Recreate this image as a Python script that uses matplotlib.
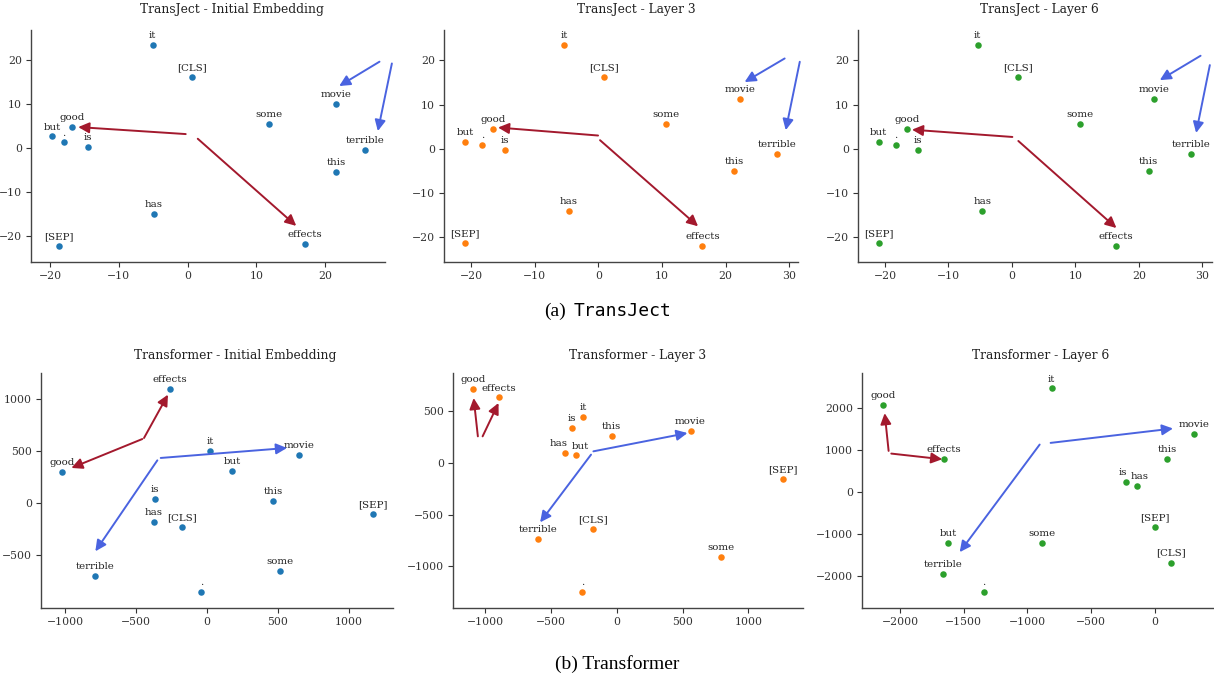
import matplotlib
matplotlib.use("Agg")
import matplotlib.pyplot as plt

plt.rcParams['font.family'] = ['DejaVu Serif']
plt.rcParams['axes.unicode_minus'] = True

words = ["it", "[CLS]", "movie", "some", "good", "but", ".", "is", "terrible", "this", "has", "effects", "[SEP]"]

# ---- TransJect ----
tj_init_x = [-5.07, 0.65, 21.6, 11.8, -16.75, -19.7, -17.96, -14.47, 25.77, 21.6, -4.87, 17.1, -18.74]
tj_init_y = [23.56, 16.2, 10.08, 5.6, 4.92, 2.73, 1.36, 0.38, -0.38, -5.3, -14.85, -21.67, -22.1]
tj_l3_x = [-5.41, 0.88, 22.29, 10.69, -16.54, -21.0, -18.27, -14.75, 28.16, 21.4, -4.68, 16.36, -21.0]
tj_l3_y = [23.55, 16.2, 11.3, 5.63, 4.5, 1.63, 0.94, -0.26, -1.25, -5.03, -14.18, -22.04, -21.44]
tj_l6_x = [-5.4, 0.96, 22.33, 10.78, -16.53, -21.0, -18.32, -14.75, 28.27, 21.5, -4.66, 16.4, -21.0]
tj_l6_y = [23.56, 16.2, 11.3, 5.6, 4.47, 1.6, 0.9, -0.3, -1.29, -5.08, -14.2, -22.1, -21.5]

# ---- Transformer ----
tf_init_x = [22, -173, 650, 516, -1021, 177, -39, -365, -788, 467, -372, -262, 1169]
tf_init_y = [503, -231, 458, -651, 298, 308, -856, 38, -702, 16, -183, 1093, -103]
tf_l3_x = [-254, -178, 560, 793, -1091, -310, -262, -338, -600, -39, -396, -896, 1263]
tf_l3_y = [448, -642, 313, -906, 713, 74, -1248, 342, -732, 261, 94, 635, -158]
tf_l6_x = [-809, 128, 306, -885, -2134, -1620, -1340, -225, -1662, 97, -141, -1652, 3]
tf_l6_y = [2470, -1681, 1386, -1219, 2080, -1219, -2382, 239, -1952, 781, 135, 781, -837]

# arrows: (tail_x, tail_y, head_x, head_y)
tj_init_red = [(-0.27, 3.26, -15.9, 4.85), (1.48, 2.2, 15.8, -17.6)]
tj_init_blue = [(27.9, 19.7, 22.04, 14.17), (29.7, 19.3, 27.66, 3.94)]
tj_l3_red = [(-0.06, 2.99, -15.8, 4.8), (0.25, 1.93, 15.68, -17.58)]
tj_l3_blue = [(29.3, 20.45, 23.0, 15.1), (31.68, 19.7, 29.47, 4.2)]
tj_l6_red = [(0.06, 2.65, -15.75, 4.3), (1.0, 1.74, 16.45, -18.0)]
tj_l6_blue = [(29.7, 21.06, 23.28, 15.53), (31.16, 18.94, 29.0, 3.56)]
tf_init_red = [(-455, 615, -955, 337), (-443, 625, -274, 1042)]
tf_init_blue = [(-325, 433, 565, 529), (-349, 410, -786, -465)]
tf_l3_red = [(-1056, 258, -1088, 629), (-1020, 258, -899, 581)]
tf_l3_blue = [(-178, 113, 537, 290), (-196, 81, -583, -574)]
tf_l6_red = [(-2089, 980, -2120, 1880), (-2068, 916, -1668, 781)]
tf_l6_blue = [(-817, 1171, 144, 1514), (-903, 1131, -1531, -1434)]

titles = ["TransJect - Initial Embedding", "TransJect - Layer 3", "TransJect - Layer 6",
          "Transformer - Initial Embedding", "Transformer - Layer 3", "Transformer - Layer 6"]
colors = ["#1f77b4", "#ff7f0e", "#2ca02c", "#1f77b4", "#ff7f0e", "#2ca02c"]

xticks_list = [[-20, -10, 0, 10, 20], [-20, -10, 0, 10, 20, 30], [-20, -10, 0, 10, 20, 30],
               [-1000, -500, 0, 500, 1000], [-1000, -500, 0, 500, 1000], [-2000, -1500, -1000, -500, 0]]
yticks_list = [[-20, -10, 0, 10, 20], [-20, -10, 0, 10, 20], [-20, -10, 0, 10, 20],
               [-500, 0, 500, 1000], [-1000, -500, 0, 500], [-2000, -1000, 0, 1000, 2000]]
xlims = [(-22.76, 28.7), (-24.3, 31.4), (-24.25, 31.5), (-1169, 1312), (-1245, 1415), (-2298, 458)]
ylims = [(-25.8, 26.9), (-25.67, 26.9), (-25.7, 26.9), (-1010, 1250), (-1403, 871), (-2765, 2837)]

W, H = 1214, 680
fig = plt.figure(figsize=(W / 100, H / 100), dpi=100)

# axes boxes in pixels: left, top, right, bottom
boxes = [(31, 30, 385, 262), (444, 30, 798, 262), (858, 30, 1212, 262),
         (41, 373, 393, 608), (453, 373, 803, 608), (862, 373, 1213, 608)]
title_pos = [(232, 10), (636, 10), (1039, 10), (235, 355), (638, 355), (1041, 355)]

# small horizontal nudges (points) for crowded labels: (panel, word) -> dx
nudges = {(4, "has"): -4.5, (4, "but"): 3.0, (5, "is"): -2.5, (5, "has"): 2.0}

xs = [tj_init_x, tj_l3_x, tj_l6_x, tf_init_x, tf_l3_x, tf_l6_x]
ys = [tj_init_y, tj_l3_y, tj_l6_y, tf_init_y, tf_l3_y, tf_l6_y]
reds = [tj_init_red, tj_l3_red, tj_l6_red, tf_init_red, tf_l3_red, tf_l6_red]
blues = [tj_init_blue, tj_l3_blue, tj_l6_blue, tf_init_blue, tf_l3_blue, tf_l6_blue]

RED = "#a3192d"
BLUE = "#4a63e0"
spine_col = "#444444"

for i in range(6):
    l, t, r, b = boxes[i]
    ax = fig.add_axes([l / W, 1 - b / H, (r - l) / W, (b - t) / H])
    ax.scatter(xs[i], ys[i], s=22, color=colors[i], zorder=3, linewidths=0)
    for w, x, y in zip(words, xs[i], ys[i]):
        dx = nudges.get((i, w), 0)
        ax.annotate(w, (x, y), xytext=(dx, 3.5), textcoords='offset points',
                    ha='center', va='bottom', fontsize=7.4, color="#222222")
    for arrs, c in ((reds[i], RED), (blues[i], BLUE)):
        for (tx, ty, hx, hy) in arrs:
            ax.annotate("", xy=(hx, hy), xytext=(tx, ty),
                        arrowprops=dict(arrowstyle="-|>,head_length=0.65,head_width=0.32",
                                        color=c, lw=1.4, shrinkA=0, shrinkB=0),
                        annotation_clip=False, zorder=4)
    ax.set_xlim(*xlims[i])
    ax.set_ylim(*ylims[i])
    ax.set_xticks(xticks_list[i])
    ax.set_yticks(yticks_list[i])
    for s in ("top", "right"):
        ax.spines[s].set_visible(False)
    for s in ("left", "bottom"):
        ax.spines[s].set_color(spine_col)
        ax.spines[s].set_linewidth(1.0)
    ax.tick_params(labelsize=7.8, colors="#333333", length=3.5, width=0.8, pad=3)
    ax.set_facecolor("white")
    fig.text(title_pos[i][0] / W, 1 - title_pos[i][1] / H, titles[i],
             ha='center', va='center', fontsize=8.8, color="#222222")

# captions
fig.text(566 / W, 1 - 311 / H, "(a)", ha='right', va='center', fontsize=14,
         family='Liberation Serif', color='black')
fig.text(574 / W, 1 - 311 / H, "TransJect", ha='left', va='center', fontsize=13,
         family='DejaVu Sans Mono', color='black')
fig.text(617 / W, 1 - 664 / H, "(b) Transformer", ha='center', va='center', fontsize=14,
         family='Liberation Serif', color='black')

fig.savefig("out.png", dpi=100, facecolor="white")
